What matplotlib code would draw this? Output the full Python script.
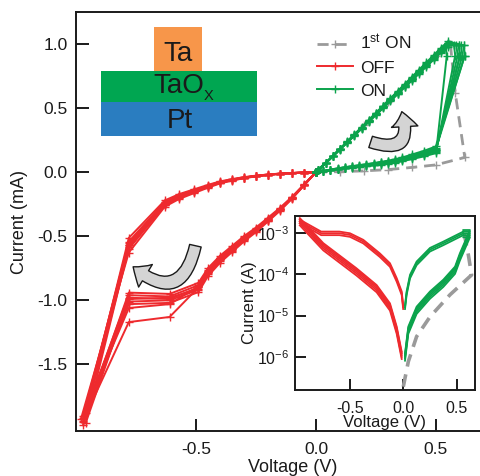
import matplotlib
matplotlib.use("Agg")
import matplotlib.pyplot as plt
from matplotlib.patches import Rectangle, FancyArrowPatch
from matplotlib.lines import Line2D
import numpy as np

plt.rcParams['font.family'] = ['Liberation Sans', 'DejaVu Sans']
plt.rcParams['mathtext.default'] = 'regular'

# ---------------- main plot data (V, mA) ----------------
# OFF (negative sweep): low-resistance branch 0 -> -0.49 V
off_lrs_v = [0.0, -0.05, -0.10, -0.15, -0.20, -0.25, -0.30, -0.35, -0.40, -0.45, -0.49]
off_lrs_i = [0.0, -0.10, -0.20, -0.29, -0.37, -0.45, -0.52, -0.60, -0.68, -0.78, -0.90]
# knee points at V = -0.61 and -0.78, one pair per cycle
off_knee_v = [-0.61, -0.78]
off_knee_i = [(-0.95, -0.94), (-0.97, -0.96), (-0.99, -0.98), (-1.00, -1.01),
              (-1.02, -1.03), (-1.03, -1.06), (-0.98, -0.99), (-1.13, -1.17)]
off_min_v = [-0.97, -0.97, -0.96, -0.97, -0.98, -0.97, -0.96, -0.97]
off_min_i = [-1.95, -1.92, -1.88, -1.97, -1.93, -1.90, -1.96, -1.94]
# return (high-resistance) branch
off_hrs_v = [-0.78, -0.63, -0.57, -0.51, -0.45, -0.40, -0.35, -0.30, -0.25, -0.20, -0.15, -0.10, -0.05, 0.0]
off_hrs_i = [-0.57, -0.245, -0.19, -0.15, -0.11, -0.08, -0.06, -0.043, -0.030, -0.020, -0.012, -0.007, -0.003, 0.0]
off_lrs_scale = [0.96, 0.98, 1.0, 1.02, 1.04, 0.99, 1.01, 1.0]
off_hrs_scale = [0.90, 0.95, 1.0, 1.05, 1.10, 0.97, 1.03, 1.0]

# ON (positive sweep): high-resistance branch 0 -> 0.5 V
on_hrs_v = [0.0, 0.03, 0.06, 0.09, 0.12, 0.15, 0.18, 0.21, 0.24, 0.27, 0.30, 0.33, 0.36, 0.40, 0.45, 0.50]
on_hrs_i = [0.0, 0.008, 0.017, 0.026, 0.034, 0.041, 0.048, 0.055, 0.062, 0.070, 0.078, 0.088, 0.10, 0.12, 0.145, 0.175]
on_top_v = [0.545, 0.58, 0.60, 0.61, 0.62, 0.59, 0.62, 0.60]
on_hrs_scale = [0.85, 0.92, 1.0, 1.08, 1.15, 0.95, 1.05, 1.0]
on_lrs_v = [0.55, 0.52, 0.49, 0.46, 0.43, 0.40, 0.37, 0.34, 0.31, 0.28, 0.25, 0.22, 0.19, 0.16, 0.13, 0.10, 0.07, 0.04, 0.01, 0.0]
on_lrs_i = [1.0, 0.95, 0.895, 0.84, 0.785, 0.73, 0.675, 0.62, 0.565, 0.51, 0.455, 0.40, 0.345, 0.29, 0.235, 0.18, 0.125, 0.07, 0.018, 0.0]
on_lrs_scale = [0.98, 0.99, 1.0, 1.01, 1.02, 0.995, 1.005, 1.0]

# 1st ON
first_v = [0.0, 0.1, 0.2, 0.3, 0.4, 0.5, 0.62, 0.58, 0.56, 0.50, 0.40, 0.30, 0.20, 0.10, 0.0]
first_i = [0.0, 0.004, 0.01, 0.02, 0.037, 0.057, 0.115, 0.62, 1.0, 0.91, 0.73, 0.55, 0.365, 0.18, 0.0]

# ---------------- inset data (V, A) ----------------
in_off_lrs_v = [-0.001, -0.015, -0.062, -0.125, -0.22, -0.375, -0.50, -0.60, -0.77, -0.97]
in_off_lrs_i = [1.6e-5, 3.5e-5, 7.4e-5, 1.7e-4, 2.95e-4, 6.3e-4, 9.1e-4, 1.0e-3, 1.0e-3, 1.95e-3]
in_off_hrs_v = [-0.97, -0.75, -0.44, -0.25, -0.125, -0.062, -0.015]
in_off_hrs_i = [1.95e-3, 4.8e-4, 1.18e-4, 4.6e-5, 1.65e-5, 4.5e-6, 1.1e-6]
in_on_lrs_v = [0.016, 0.031, 0.063, 0.125, 0.25, 0.375, 0.5625]
in_on_lrs_i = [1.6e-5, 3.5e-5, 8.9e-5, 1.87e-4, 4.0e-4, 5.7e-4, 1.0e-3]
in_on_hrs_v = [0.016, 0.047, 0.125, 0.25, 0.375, 0.485, 0.53, 0.625, 0.5625]
in_on_hrs_i = [1.0e-6, 4.5e-6, 1.37e-5, 3.2e-5, 6.2e-5, 1.29e-4, 2.7e-4, 1.0e-3, 1.0e-3]
in_first_v = [0.0, 0.047, 0.125, 0.25, 0.4375, 0.64, 0.61, 0.57]
in_first_i = [1.86e-7, 7.6e-7, 3.1e-6, 9.3e-6, 3.2e-5, 9.7e-5, 2.96e-4, 1.0e-3]
in_band = [0.8, 0.9, 1.0, 1.1, 1.2]

RED = '#EE2A2E'
GREEN = '#0BA34C'
GRAY = '#9A9A9A'
INK = '#1a1a1a'

W, H = 481, 476
fig = plt.figure(figsize=(W / 100, H / 100), dpi=100)

def fx(x):
    return x / W

def fy(y):
    return 1 - y / H

ax = fig.add_axes([fx(76), fy(431), fx(481 - 76), (431 - 12) / H])
ax.set_xlim(-1.0, 0.6875)
ax.set_ylim(-2.02, 1.25)

mk = dict(marker='+', markersize=6, markeredgewidth=1.0)

# 1st ON (behind)
ax.plot(first_v, first_i, color=GRAY, lw=2.0, dashes=(4, 2.5), zorder=2, **mk)

# OFF cycles
for k in range(len(off_knee_i)):
    v = off_lrs_v + off_knee_v + [off_min_v[k]] + off_hrs_v
    i = ([a * off_lrs_scale[k] for a in off_lrs_i] + list(off_knee_i[k]) + [off_min_i[k]]
         + [a * off_hrs_scale[k] for a in off_hrs_i])
    ax.plot(v, i, color=RED, lw=1.4, zorder=3, **mk)

# ON cycles
for k in range(len(on_top_v)):
    v = on_hrs_v + [on_top_v[k], on_top_v[k] - 0.005] + on_lrs_v
    i = ([a * on_hrs_scale[k] for a in on_hrs_i] + [0.91, 0.99]
         + [a * on_lrs_scale[k] for a in on_lrs_i])
    ax.plot(v, i, color=GREEN, lw=1.4, zorder=3, **mk)

ax.set_xticks([-0.5, 0.0, 0.5])
ax.set_xticklabels(['-0.5', '0.0', '0.5'])
ax.set_yticks([-1.5, -1.0, -0.5, 0.0, 0.5, 1.0])
ax.set_yticklabels(['-1.5', '-1.0', '-0.5', '0.0', '0.5', '1.0'])
ax.tick_params(direction='in', length=9, width=1.4, labelsize=12.5, colors=INK)
ax.tick_params(axis='x', pad=8)
ax.tick_params(axis='y', pad=6)
for s in ['left', 'top', 'bottom']:
    ax.spines[s].set_linewidth(1.4)
    ax.spines[s].set_color(INK)
ax.spines['right'].set_visible(False)
ax.set_xlabel('Voltage (V)', fontsize=13, color=INK)
ax.set_ylabel('Current (mA)', fontsize=13, color=INK)
ax.xaxis.set_label_coords((293 - 76) / (481 - 76), -(459 - 431) / (431 - 12), transform=ax.transAxes)
ax.yaxis.set_label_coords(-(76 - 28) / (481 - 76), 0.5)

# legend
handles = [Line2D([], [], color=GRAY, lw=2.0, dashes=(4, 2.5), **mk),
           Line2D([], [], color=RED, lw=1.4, **mk),
           Line2D([], [], color=GREEN, lw=1.4, **mk)]
labels = ['1$^{st}$ ON', 'OFF', 'ON']
leg = ax.legend(handles, labels, loc='upper left',
                bbox_to_anchor=((317 - 76) / (481 - 76), (431 - 33) / (431 - 12)),
                frameon=False, fontsize=12.5, handlelength=2.1, handletextpad=0.4,
                labelspacing=0.45, borderpad=0, borderaxespad=0)
for t in leg.get_texts():
    t.set_color(INK)

# layer stack diagram
def rect(x0, y0, x1, y1, color):
    fig.add_artist(Rectangle((fx(x0), fy(y1)), fx(x1 - x0), (y1 - y0) / H,
                             transform=fig.transFigure, facecolor=color, edgecolor='none', zorder=5))

rect(154, 27, 202, 71, '#F7964A')
rect(101, 71, 257, 102, '#00A651')
rect(101, 102, 257, 136, '#2A7DC0')
fig.text(fx(178), fy(61), 'Ta', fontsize=20, ha='center', va='baseline', color=INK, zorder=6)
fig.text(fx(204), fy(93), 'TaO', fontsize=20, ha='right', va='baseline', color=INK, zorder=6)
fig.text(fx(204), fy(100), 'X', fontsize=10.5, ha='left', va='baseline', color=INK, zorder=6)
fig.text(fx(180), fy(128), 'Pt', fontsize=20, ha='center', va='baseline', color=INK, zorder=6)

# curved arrows (pixel coordinates)
def px(x, y):
    return (fx(x), fy(y))

a1 = FancyArrowPatch(px(368, 141), px(401, 109), transform=fig.transFigure,
                     connectionstyle='arc3,rad=1.0',
                     arrowstyle='simple,head_width=1.9,head_length=1.1,tail_width=0.85',
                     mutation_scale=10, facecolor='#D4D4D4', edgecolor=INK, lw=1.0, zorder=6)
fig.add_artist(a1)
a2 = FancyArrowPatch(px(196, 243), px(131, 265), transform=fig.transFigure,
                     connectionstyle='arc3,rad=-0.85',
                     arrowstyle='simple,head_width=1.9,head_length=1.1,tail_width=0.85',
                     mutation_scale=10, facecolor='#D4D4D4', edgecolor=INK, lw=1.0, zorder=6)
fig.add_artist(a2)

# ---------------- inset ----------------
ins = fig.add_axes([fx(295), fy(390), fx(475 - 295), (390 - 216) / H], zorder=10)
ins.set_facecolor('white')
ins.set_yscale('log')
ins.set_xlim(-1.015, 0.672)
ins.set_ylim(10 ** -6.81, 10 ** -2.58)

ins.plot(in_first_v, in_first_i, color=GRAY, lw=2.6, dashes=(3.5, 2.2), zorder=2)
for f in in_band:
    ins.plot(in_off_hrs_v, [a * f for a in in_off_hrs_i], color=RED, lw=1.3, zorder=3)
    ins.plot(in_on_hrs_v, [a * f for a in in_on_hrs_i], color=GREEN, lw=1.3, zorder=3)
for f in [0.9, 1.0, 1.1]:
    ins.plot(in_off_lrs_v, [a * f for a in in_off_lrs_i], color=RED, lw=1.3, zorder=3)
    ins.plot(in_on_lrs_v, [a * f for a in in_on_lrs_i], color=GREEN, lw=1.3, zorder=3)

ins.set_xticks([-0.5, 0.0, 0.5])
ins.set_xticklabels(['-0.5', '0.0', '0.5'])
ins.set_yticks([1e-6, 1e-5, 1e-4, 1e-3])
ins.minorticks_off()
ins.tick_params(direction='in', length=8, width=1.4, labelsize=11.5, colors=INK)
ins.tick_params(axis='x', pad=8)
ins.tick_params(axis='y', pad=4)
for s in ins.spines.values():
    s.set_linewidth(1.4)
    s.set_color(INK)
ins.set_xlabel('Voltage (V)', fontsize=12, color=INK, labelpad=-1)
ins.set_ylabel('Current (A)', fontsize=12, color=INK, labelpad=0)

fig.savefig('out.png', dpi=100)
